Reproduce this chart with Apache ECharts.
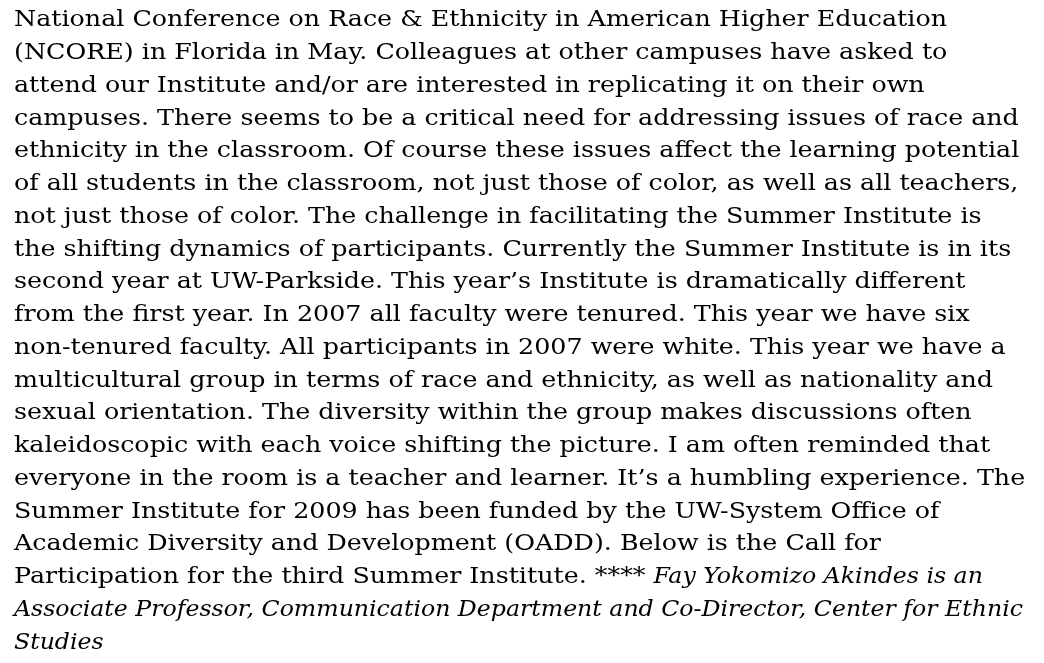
<!DOCTYPE html>
<html>
<head>
<meta charset="utf-8">
<script src="https://cdn.jsdelivr.net/npm/echarts@6/dist/echarts.min.js"></script>
<style>
  html, body { margin: 0; padding: 0; background: #fff; }
  #chart { width: 1044px; height: 663px; }
</style>
</head>
<body>
<div id="chart"></div>
<script>
// text lines as they break in the picture
const plainLines = [
  'National Conference on Race & Ethnicity in American Higher Education',
  '(NCORE) in Florida in May. Colleagues at other campuses have asked to',
  'attend our Institute and/or are interested in replicating it on their own',
  'campuses. There seems to be a critical need for addressing issues of race and',
  'ethnicity in the classroom. Of course these issues affect the learning potential',
  'of all students in the classroom, not just those of color, as well as all teachers,',
  'not just those of color. The challenge in facilitating the Summer Institute is',
  'the shifting dynamics of participants. Currently the Summer Institute is in its',
  'second year at UW-Parkside. This year\u2019s Institute is dramatically different',
  'from the first year. In 2007 all faculty were tenured. This year we have six',
  'non-tenured faculty. All participants in 2007 were white. This year we have a',
  'multicultural group in terms of race and ethnicity, as well as nationality and',
  'sexual orientation. The diversity within the group makes discussions often',
  'kaleidoscopic with each voice shifting the picture. I am often reminded that',
  'everyone in the room is a teacher and learner. It\u2019s a humbling experience. The',
  'Summer Institute for 2009 has been funded by the UW-System Office of',
  'Academic Diversity and Development (OADD). Below is the Call for'
];
const mixedPlain = 'Participation for the third Summer Institute. **** ';
const mixedItalic = 'Fay Yokomizo Akindes is an';
const italicLines = [
  'Associate Professor, Communication Department and Co-Director, Center for Ethnic',
  'Studies'
];

const FONT_FAMILY = '"DejaVu Serif", Georgia, serif';
const FONT_SIZE = 22.5;
const LEFT = 14;
const FIRST_BASE = 27;
const PITCH = 32.75;

// measure so the replacement font spans the same width as the original
const ctx = document.createElement('canvas').getContext('2d');
ctx.font = FONT_SIZE + 'px ' + FONT_FAMILY;
const scaleN = (947 - LEFT) / ctx.measureText(plainLines[0]).width;
const mixedW = ctx.measureText(mixedPlain).width * scaleN;
ctx.font = 'italic ' + FONT_SIZE + 'px ' + FONT_FAMILY;
const scaleI = (1023 - LEFT) / ctx.measureText(italicLines[0]).width;

function textEl(str, x, row, italic) {
  return {
    type: 'text',
    x: x,
    y: FIRST_BASE + row * PITCH - 0.29 * FONT_SIZE,
    scaleX: italic ? scaleI : scaleN,
    style: {
      text: str,
      x: 0,
      y: 0,
      fill: '#000',
      font: (italic ? 'italic ' : '') + FONT_SIZE + 'px ' + FONT_FAMILY,
      textAlign: 'left',
      textVerticalAlign: 'middle'
    }
  };
}

const elements = [];
plainLines.forEach((s, i) => elements.push(textEl(s, LEFT, i, false)));
const mixedRow = plainLines.length;
elements.push(textEl(mixedPlain, LEFT, mixedRow, false));
elements.push(textEl(mixedItalic, LEFT + mixedW, mixedRow, true));
italicLines.forEach((s, i) => elements.push(textEl(s, LEFT, mixedRow + 1 + i, true)));

const chart = echarts.init(document.getElementById('chart'), null, { renderer: 'canvas' });
chart.setOption({
  backgroundColor: '#fff',
  animation: false,
  graphic: { elements: elements }
});
</script>
</body>
</html>
